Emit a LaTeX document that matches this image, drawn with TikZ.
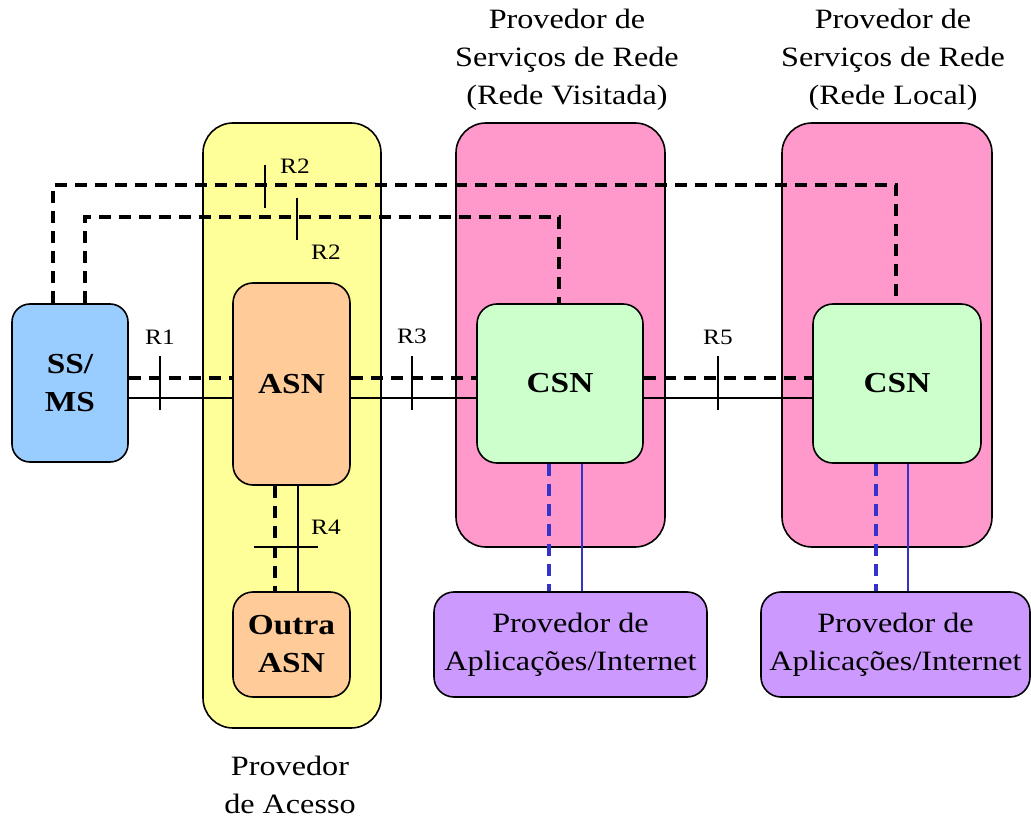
\documentclass[tikz,border=0pt]{standalone}
\usepackage{fontspec}
\setmainfont[FakeStretch=1.15]{Liberation Serif}
\definecolor{amarelo}{HTML}{FFFF99}
\definecolor{rosa}{HTML}{FF99CC}
\definecolor{verde}{HTML}{CCFFCC}
\definecolor{pessego}{HTML}{FFCC99}
\definecolor{celeste}{HTML}{99CCFF}
\definecolor{lilas}{HTML}{CC99FF}
\definecolor{azul}{HTML}{3333CC}

\begin{document}
\begin{tikzpicture}[x=1pt,y=-1pt,
    caixa/.style={draw,line width=1.6pt,rounded corners=20pt,inner sep=0pt,align=center,
        font=\fontsize{29}{38}\selectfont\bfseries},
    dominio/.style={caixa,rounded corners=30pt},
    aplic/.style={caixa,font=\fontsize{28}{38}\selectfont},
    sinal/.style={line width=3.6pt,dash pattern=on 12pt off 8pt},
    dados/.style={line width=1.2pt},
    marca/.style={line width=1.8pt},
    rotulo/.style={font=\fontsize{22}{24}\selectfont},
    titulo/.style={align=center,font=\fontsize{28}{38}\selectfont}]
    \useasboundingbox (0,0) rectangle (1031,818);

    \node[dominio,fill=amarelo,minimum width=178,minimum height=605] (acesso) at (292,425.5) {};
    \node[dominio,fill=rosa,minimum width=209,minimum height=424] (visitada) at (560.5,335) {};
    \node[dominio,fill=rosa,minimum width=210,minimum height=424] (local) at (887,335) {};

    \node[caixa,fill=celeste,minimum width=116,minimum height=158,rounded corners=18pt] (ssms) at (70,383) {SS/\\MS};
    \node[caixa,fill=pessego,minimum width=117,minimum height=202] (asn) at (291.5,384) {ASN};
    \node[caixa,fill=pessego,minimum width=117,minimum height=105] (outra) at (291.5,644.5) {Outra\\ASN};
    \node[caixa,fill=verde,minimum width=166,minimum height=159] (csn1) at (560,383.5) {CSN};
    \node[caixa,fill=verde,minimum width=168,minimum height=159] (csn2) at (897,383.5) {CSN};
    \node[aplic,fill=lilas,minimum width=273,minimum height=105] (app1) at (570.5,644.5) {Provedor de\\Aplicações/Internet};
    \node[aplic,fill=lilas,minimum width=269,minimum height=105] (app2) at (895.5,644.5) {Provedor de\\Aplicações/Internet};

    \node[titulo] (tvisitada) at (567,60) {Provedor de\\Serviços de Rede\\(Rede Visitada)};
    \node[titulo] (tlocal) at (893,60) {Provedor de\\Serviços de Rede\\(Rede Local)};
    \node[titulo] (tacesso) at (290,785) {Provedor\\de Acesso};

    \coordinate (c1) at (53,185);
    \coordinate (c2) at (896,185);
    \coordinate (c3) at (85,217);
    \coordinate (c4) at (559,217);
    \draw[sinal] (ssms.north -| c1) -- (c1) -- (c2) -- (csn2.north -| c2);
    \draw[sinal] (ssms.north -| c3) -- (c3) -- (c4) -- (csn1.north -| c4);

    \draw[sinal] ([yshift=5]ssms.east) -- ([yshift=5]ssms.east -| asn.west);
    \draw[dados] ([yshift=-15]ssms.east) -- ([yshift=-15]ssms.east -| asn.west);
    \draw[sinal] ([yshift=6]asn.east) -- ([yshift=6]asn.east -| csn1.west);
    \draw[dados] ([yshift=-14]asn.east) -- ([yshift=-14]asn.east -| csn1.west);
    \draw[sinal] ([yshift=5.5]csn1.east) -- ([yshift=5.5]csn1.east -| csn2.west);
    \draw[dados] ([yshift=-14.5]csn1.east) -- ([yshift=-14.5]csn1.east -| csn2.west);
    \draw[sinal] ([xshift=-16.5]asn.south) -- ([xshift=-16.5]asn.south |- outra.north);
    \draw[dados] ([xshift=6.5]asn.south) -- ([xshift=6.5]asn.south |- outra.north);

    \draw[sinal,azul,line width=3.2pt] ([xshift=-11]csn1.south) -- ([xshift=-11]csn1.south |- app1.north);
    \draw[dados,azul] ([xshift=22]csn1.south) -- ([xshift=22]csn1.south |- app1.north);
    \draw[sinal,azul,line width=3.2pt] ([xshift=-21]csn2.south) -- ([xshift=-21]csn2.south |- app2.north);
    \draw[dados,azul] ([xshift=11]csn2.south) -- ([xshift=11]csn2.south |- app2.north);

    \coordinate (t1) at (160,383.5);
    \coordinate (t3) at (412,383.5);
    \coordinate (t5) at (718,383.5);
    \coordinate (t2a) at (265,186.5);
    \coordinate (t2b) at (297,219);
    \coordinate (t4) at (286,547);
    \draw[marca] (t1) ++(0,-27) -- ++(0,53);
    \draw[marca] (t3) ++(0,-27) -- ++(0,53);
    \draw[marca] (t5) ++(0,-27) -- ++(0,53);
    \draw[marca] (t2a) ++(0,-21.5) -- ++(0,43);
    \draw[marca] (t2b) ++(0,-21) -- ++(0,42);
    \draw[marca] (t4) ++(-32,0) -- ++(64,0);

    \node[rotulo] (r1) at (160,337) {R1};
    \node[rotulo] (r2a) at (295,166) {R2};
    \node[rotulo] (r2b) at (326,252) {R2};
    \node[rotulo] (r3) at (412,336) {R3};
    \node[rotulo] (r4) at (326,527) {R4};
    \node[rotulo] (r5) at (718,337) {R5};
\end{tikzpicture}
\end{document}
